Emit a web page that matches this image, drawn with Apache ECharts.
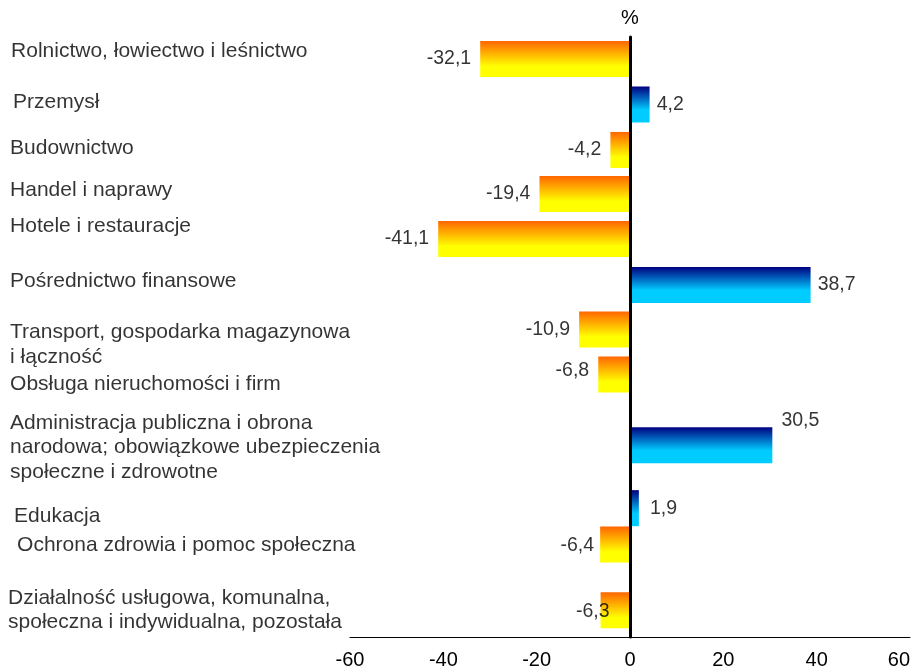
<!DOCTYPE html>
<html>
<head>
<meta charset="utf-8">
<script src="https://cdn.jsdelivr.net/npm/echarts@6/dist/echarts.min.js"></script>
<style>
  html, body { margin: 0; padding: 0; background: #fff; }
  #main { width: 916px; height: 671px; }
</style>
</head>
<body>
<div id="main"></div>
<script>
// kategorie (sekcje PKD)
var categories = [
    'Rolnictwo, łowiectwo i leśnictwo',
    'Przemysł',
    'Budownictwo',
    'Handel i naprawy',
    'Hotele i restauracje',
    'Pośrednictwo finansowe',
    'Transport, gospodarka magazynowa\ni łączność',
    'Obsługa nieruchomości i firm',
    'Administracja publiczna i obrona\nnarodowa; obowiązkowe ubezpieczenia\nspołeczne i zdrowotne',
    'Edukacja',
    'Ochrona zdrowia i pomoc społeczna',
    'Działalność usługowa, komunalna,\nspołeczna i indywidualna, pozostała'
];
// zmiana w %
var values = [-32.1, 4.2, -4.2, -19.4, -41.1, 38.7, -10.9, -6.8, 30.5, 1.9, -6.4, -6.3];
// pozycja paska na osi pionowej (w wierszach)
var barRows = [0.49, 1.5, 2.51, 3.49, 4.49, 5.51, 6.5, 7.5, 9.07, 10.47, 11.28, 12.74];
// pozycja opisu kategorii (w wierszach)
var labelRows = [0.31, 1.44, 2.47, 3.4, 4.2, 5.42, 6.84, 7.71, 9.12, 10.64, 11.29, 12.74];
var xTicks = [-60, -40, -20, 0, 20, 40, 60];

// wcięcia opisów i przesunięcia etykiet (układ)
var labelIndent = [11, 13, 10, 10, 10, 10, 10, 10, 10, 14, 17, 8];
var valueShift = { 7: [0, -4], 8: [2, -25], 9: [4, 0], 10: [3, 1], 11: [18, 1] };

var FONT = 'Liberation Sans';
var ROW_MAX = 600 / 45;

function fmt(v) {
    return String(v).replace('.', ',');
}

var negGrad = new echarts.graphic.LinearGradient(0, 0, 0, 1, [
    { offset: 0, color: '#FF6600' },
    { offset: 0.7, color: '#FFFF00' },
    { offset: 1, color: '#FFFF00' }
]);
var posGrad = new echarts.graphic.LinearGradient(0, 0, 0, 1, [
    { offset: 0, color: '#000080' },
    { offset: 0.65, color: '#00CCFF' },
    { offset: 1, color: '#00CCFF' }
]);

function renderBar(params, api) {
    var v = api.value(0), r = api.value(1);
    var p0 = api.coord([0, r]);
    var p1 = api.coord([v, r]);
    var h = 36;
    return {
        type: 'rect',
        shape: {
            x: Math.min(p0[0], p1[0]),
            y: p0[1] - h / 2,
            width: Math.abs(p1[0] - p0[0]),
            height: h
        },
        style: { fill: v < 0 ? negGrad : posGrad }
    };
}

var barData = values.map(function (v, i) { return [v, barRows[i]]; });

var valueLabelData = values.map(function (v, i) {
    return {
        value: [v, barRows[i]],
        label: {
            position: v < 0 ? 'left' : 'right',
            distance: v < 0 ? 9 : 7,
            offset: valueShift[i] || [0, 0]
        }
    };
});

var catLabelData = categories.map(function (c, i) {
    return {
        value: [0, labelRows[i]],
        name: c,
        label: { distance: labelIndent[i] }
    };
});

var myChart = echarts.init(document.getElementById('main'));

var option = {
    animation: false,
    backgroundColor: '#fff',
    textStyle: { fontFamily: FONT },
    grid: [
        { left: 350, right: 6, top: 37, height: 600, outerBoundsMode: 'none', containLabel: false },
        { left: 0, right: 0, top: 37, height: 600, outerBoundsMode: 'none', containLabel: false }
    ],
    xAxis: [
        {
            type: 'value', gridIndex: 0,
            min: xTicks[0], max: xTicks[xTicks.length - 1], interval: 20,
            axisLine: { show: true, onZero: false, lineStyle: { color: '#000', width: 1 } },
            axisTick: { show: false },
            splitLine: { show: false },
            axisLabel: {
                color: '#000', fontSize: 20, fontFamily: FONT, margin: 13,
                alignMaxLabel: 'right',
                formatter: function (v) { return fmt(v); }
            }
        },
        { type: 'value', gridIndex: 1, min: 0, max: 1, show: false }
    ],
    yAxis: [
        {
            type: 'value', gridIndex: 0, inverse: true,
            min: 0, max: ROW_MAX, z: 10,
            name: '%', nameLocation: 'start', nameGap: 9,
            nameTextStyle: { color: '#000', fontSize: 20, fontFamily: FONT, align: 'center' },
            axisLine: { show: true, onZero: true, lineStyle: { color: '#000', width: 3 } },
            axisTick: { show: false },
            axisLabel: { show: false },
            splitLine: { show: false }
        },
        { type: 'value', gridIndex: 1, inverse: true, min: 0, max: ROW_MAX, show: false }
    ],
    series: [
        {
            type: 'custom',
            xAxisIndex: 0, yAxisIndex: 0,
            renderItem: renderBar,
            data: barData,
            z: 1
        },
        {
            type: 'scatter',
            xAxisIndex: 0, yAxisIndex: 0,
            symbolSize: 0.1,
            itemStyle: { color: 'transparent' },
            data: valueLabelData,
            silent: true,
            label: {
                show: true, color: '#000', fontSize: 19.5, fontFamily: FONT,
                formatter: function (p) { return fmt(p.value[0]); }
            },
            z: 5
        },
        {
            type: 'scatter',
            xAxisIndex: 1, yAxisIndex: 1,
            symbolSize: 0.1,
            clip: false,
            itemStyle: { color: 'transparent' },
            data: catLabelData,
            silent: true,
            label: {
                show: true, position: 'right', align: 'left',
                color: '#000', fontSize: 21, lineHeight: 24.5, fontFamily: FONT,
                formatter: '{b}'
            }
        }
    ]
};

myChart.setOption(option, true);

window.onresize = function () {
    myChart.resize();
};
</script>
</body>
</html>
